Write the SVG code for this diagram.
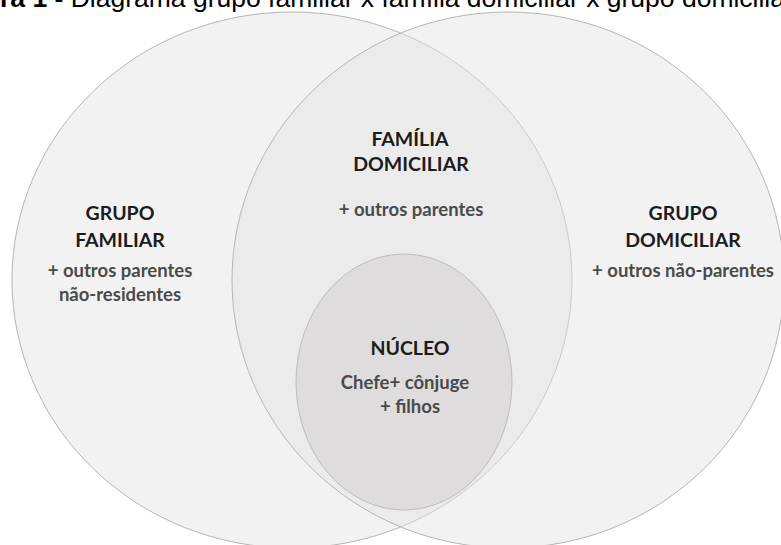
<svg xmlns="http://www.w3.org/2000/svg" width="781" height="545" viewBox="0 0 781 545">
<style>
.big{fill:#e3e3e3;fill-opacity:0.46;stroke:#b5b5b5;stroke-width:1}
.core{fill:#dedcdc;stroke:#bcbcbc;stroke-width:1}
.h{font-family:Lato,"Noto Sans",sans-serif;font-weight:700;font-size:19.5px;fill:#1c1c1c;text-anchor:middle}
.s{font-family:Lato,"Noto Sans",sans-serif;font-weight:700;font-size:18.5px;fill:#4a4a4a;text-anchor:middle}
.t{font-family:"Liberation Sans",Arial,sans-serif;font-size:26.5px;fill:#000}
</style>
<rect width="781" height="545" fill="#fff"/>
<text class="t" x="0" y="7"><tspan font-weight="bold">ra 1 -</tspan> Diagrama grupo familiar x família domiciliar x grupo domiciliar</text>
<g id="grupo-familiar">
<ellipse class="big" cx="292" cy="280" rx="280" ry="268"/>
<text class="h" x="120" y="220">GRUPO</text>
<text class="h" x="120" y="247">FAMILIAR</text>
<text class="s" x="120" y="277">+ outros parentes</text>
<text class="s" x="120" y="301">não-residentes</text>
</g>
<g id="grupo-domiciliar">
<ellipse class="big" cx="508" cy="280" rx="276" ry="268"/>
<text class="h" x="683" y="220">GRUPO</text>
<text class="h" x="683" y="247">DOMICILIAR</text>
<text class="s" x="683" y="277">+ outros não-parentes</text>
</g>
<g id="familia-domiciliar">
<text class="h" x="410" y="146">FAMÍLIA</text>
<text class="h" x="411" y="171">DOMICILIAR</text>
<text class="s" x="411" y="216">+ outros parentes</text>
</g>
<g id="nucleo">
<ellipse class="core" cx="404" cy="382" rx="108" ry="128"/>
<text class="h" x="410" y="355">NÚCLEO</text>
<text class="s" x="405" y="389">Chefe+ cônjuge</text>
<text class="s" x="410" y="413">+ filhos</text>
</g>
<g id="connectors"/>
</svg>
